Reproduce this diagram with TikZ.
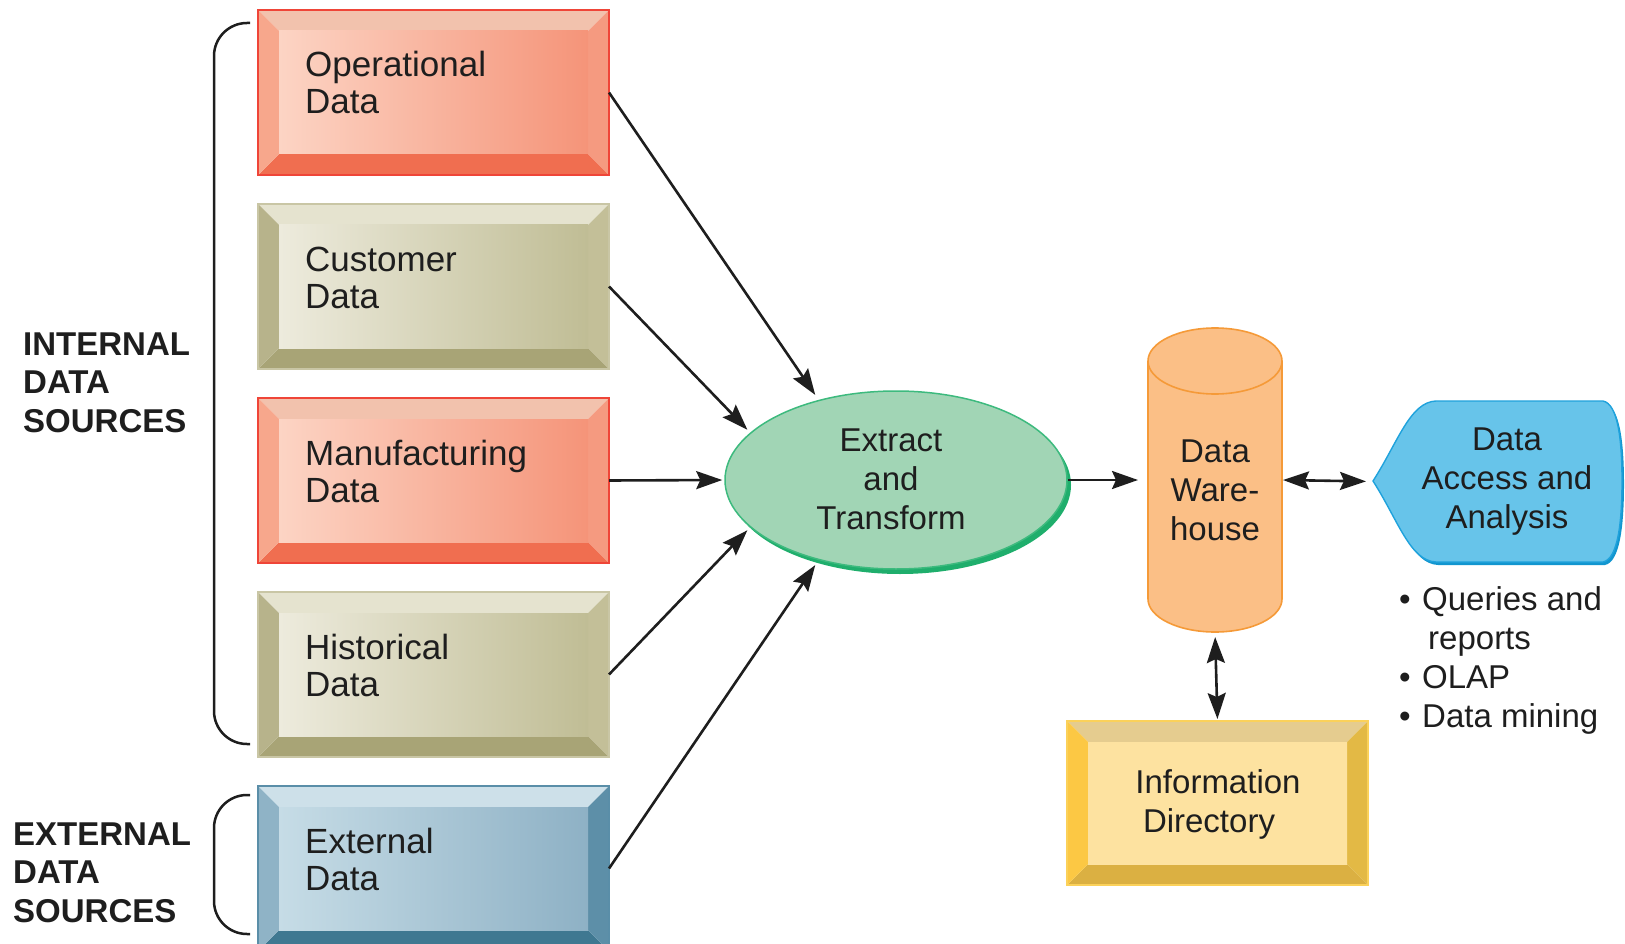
\documentclass[tikz,border=0pt]{standalone}
\usepackage{fontspec}
\setmainfont{Liberation Sans}
\usetikzlibrary{arrows.meta,calc,shapes.geometric}

\definecolor{redT}{HTML}{F2C2AD}\definecolor{redL}{HTML}{F7A78C}\definecolor{redB}{HTML}{F06E50}
\definecolor{redR}{HTML}{F59A80}\definecolor{redIa}{HTML}{FCD4C4}\definecolor{redIb}{HTML}{F59479}
\definecolor{redE}{HTML}{EF4538}
\definecolor{oliT}{HTML}{E5E3CF}\definecolor{oliL}{HTML}{B7B38B}\definecolor{oliB}{HTML}{A8A476}
\definecolor{oliR}{HTML}{C3BF98}\definecolor{oliIa}{HTML}{EDEBDD}\definecolor{oliIb}{HTML}{C0BD95}
\definecolor{oliE}{HTML}{C9C6A5}
\definecolor{bluT}{HTML}{CDE0E9}\definecolor{bluL}{HTML}{8FB3C6}\definecolor{bluB}{HTML}{3F7891}
\definecolor{bluR}{HTML}{5D8FA8}\definecolor{bluIa}{HTML}{C6DCE6}\definecolor{bluIb}{HTML}{8EB1C5}
\definecolor{bluE}{HTML}{5A8EA8}
\definecolor{yelT}{HTML}{E5CC8F}\definecolor{yelL}{HTML}{FCC844}\definecolor{yelB}{HTML}{DBB042}
\definecolor{yelR}{HTML}{E3B945}\definecolor{yelIa}{HTML}{FDE2A0}\definecolor{yelIb}{HTML}{FDE2A0}
\definecolor{yelE}{HTML}{FBD15A}
\definecolor{etfill}{HTML}{A1D5B5}\definecolor{etline}{HTML}{3DBA7E}\definecolor{etshadow}{HTML}{1FAE6C}
\definecolor{dwfill}{HTML}{FBBF86}\definecolor{dwline}{HTML}{F59A38}
\definecolor{dafill}{HTML}{67C4EA}\definecolor{daline}{HTML}{1FA2DC}\definecolor{dashadow}{HTML}{1296CF}
\definecolor{txtc}{HTML}{1E1E1E}

% #1 node name, #2 colour scheme, #3 x, #4 y (top), #5 w, #6 h
\newcommand{\bevbox}[6]{%
  \node[boxnode, minimum width=#5pt, minimum height=#6pt] (#1) at ({#3+#5/2},{#4+#6/2}) {};
  \fill[#2T] (#3,#4) -- ({#3+#5},#4) -- ({#3+#5-21},{#4+21}) -- ({#3+21},{#4+21}) -- cycle;
  \fill[#2B] (#3,{#4+#6}) -- ({#3+#5},{#4+#6}) -- ({#3+#5-21},{#4+#6-21}) -- ({#3+21},{#4+#6-21}) -- cycle;
  \fill[#2L] (#3,#4) -- ({#3+21},{#4+21}) -- ({#3+21},{#4+#6-21}) -- (#3,{#4+#6}) -- cycle;
  \fill[#2R] ({#3+#5},#4) -- ({#3+#5-21},{#4+21}) -- ({#3+#5-21},{#4+#6-21}) -- ({#3+#5},{#4+#6}) -- cycle;
  \shade[left color=#2Ia, right color=#2Ib] ({#3+21},{#4+21}) rectangle ({#3+#5-21},{#4+#6-21});
  \draw[#2E, line width=1.2pt] (#3,#4) rectangle ({#3+#5},{#4+#6});
}

\newcommand{\dapath}{(1373,481) .. controls (1398,442) and (1410,402) .. (1436,401) -- (1603,401) .. controls (1618,404) and (1622,440) .. (1622,481) .. controls (1622,522) and (1618,559) .. (1603,562) -- (1436,562) .. controls (1410,561) and (1398,520) .. cycle}

\begin{document}
\begin{tikzpicture}[x=1pt,y=-1pt,
  boxnode/.style={rectangle, inner sep=0pt, outer sep=0pt},
  boxtxt/.style={font=\fontsize{35}{37}\selectfont, align=left, anchor=base west, inner sep=0pt, text=txtc},
  ctxt/.style={font=\fontsize{33}{39}\selectfont, align=center, anchor=base, inner sep=0pt, text=txtc},
  lbl/.style={font=\bfseries\fontsize{33}{38.5}\selectfont, align=left, anchor=base west, inner sep=0pt, text=txtc},
  brk/.style={line width=2.5pt, draw=txtc, rounded corners=33pt},
  tip/.tip={Stealth[length=26pt,width=18pt,inset=4pt]},
  arr/.style={line width=2.6pt, draw=txtc, -tip},
  darr/.style={line width=2.6pt, draw=txtc, tip-tip}]
\useasboundingbox (0,0) rectangle (1625,944);
\clip (0,0) rectangle (1625,944);

% source boxes
\bevbox{op}{red}{258}{10}{351}{165}
\bevbox{cu}{oli}{258}{204}{351}{165}
\bevbox{mf}{red}{258}{398}{351}{165}
\bevbox{hi}{oli}{258}{592}{351}{165}
\bevbox{ex}{blu}{258}{786}{351}{165}

% (anchor base = baseline of the last line)
\node[boxtxt] (opl) at (305,114) {Operational\\Data};
\node[boxtxt] (cul) at (305,308) {Customer\\Data};
\node[boxtxt] (mfl) at (305,502) {Manufacturing\\Data};
\node[boxtxt] (hil) at (305,696) {Historical\\Data};
\node[boxtxt] (exl) at (305,890) {External\\Data};

% left labels and brackets
\node[lbl] (intl) at (23,432) {INTERNAL\\DATA\\SOURCES};
\node[lbl] (extl) at (13,922) {EXTERNAL\\DATA\\SOURCES};
\draw[brk] (250,23) -- (214,23) -- (214,744) -- (250,744);
\draw[brk] (250,795) -- (214,795) -- (214,934) -- (250,934);

% extract and transform
\fill[etshadow] (900,485) ellipse [x radius=171pt, y radius=89pt];
\node[ellipse, minimum width=342pt, minimum height=178pt, inner sep=0pt, fill=etfill, draw=etline, line width=1.5pt] (et) at (896,480) {};
\node[ctxt] (etl) at (891,529) {Extract\\and\\Transform};

% data warehouse cylinder
\node[boxnode, minimum width=134pt, minimum height=304pt] (dw) at (1215,480) {};
\filldraw[fill=dwfill, draw=dwline, line width=1.6pt] (1148,361) -- (1148,599)
  arc[start angle=180, end angle=360, x radius=67pt, y radius=33pt] -- (1282,361)
  arc[start angle=0, end angle=180, x radius=67pt, y radius=33pt] -- cycle;
\draw[dwline, line width=1.6pt] (1148,361) arc[start angle=180, end angle=360, x radius=67pt, y radius=33pt];
\node[ctxt] (dwl) at (1215,540) {Data\\Ware-\\house};

% data access and analysis
\node[boxnode, minimum width=249pt, minimum height=161pt] (da) at (1497.5,481.5) {};
\begin{scope}[shift={(2,3)}]
\fill[dashadow] \dapath;
\end{scope}
\filldraw[fill=dafill, draw=daline, line width=1.4pt] \dapath;
\node[ctxt] (dal) at (1507,528) {Data\\Access and\\Analysis};

\node[font=\fontsize{33}{39}\selectfont, align=left, anchor=base west, inner sep=0pt, text=txtc] (bul) at (1399,727)
  {\makebox[23pt][l]{•}Queries and\\\hspace*{29pt}reports\\\makebox[23pt][l]{•}OLAP\\\makebox[23pt][l]{•}Data mining};

% information directory
\bevbox{info}{yel}{1067}{721}{301}{164}
\node[ctxt] (infl) at (1218,832) {Information\\Directory\hspace*{18pt}};

% connectors
\draw[arr, shorten >=6pt] (op.east) -- (et.134);
\draw[arr, shorten >=4pt] (cu.east) -- (et.162);
\draw[arr, shorten >=2pt] (mf.east) -- (et.180);
\draw[arr, shorten >=4pt] (hi.east) -- (et.198);
\draw[arr, shorten >=6pt] (ex.east) -- (et.226);
\draw[arr, shorten >=10pt] (et.east) -- (dw.west);
\draw[darr, shorten <=1pt, shorten >=7pt] (dw.east) -- (da.west);
\draw[darr, shorten <=5pt, shorten >=2pt] (dw.south) -- (info.north);
\end{tikzpicture}
\end{document}
